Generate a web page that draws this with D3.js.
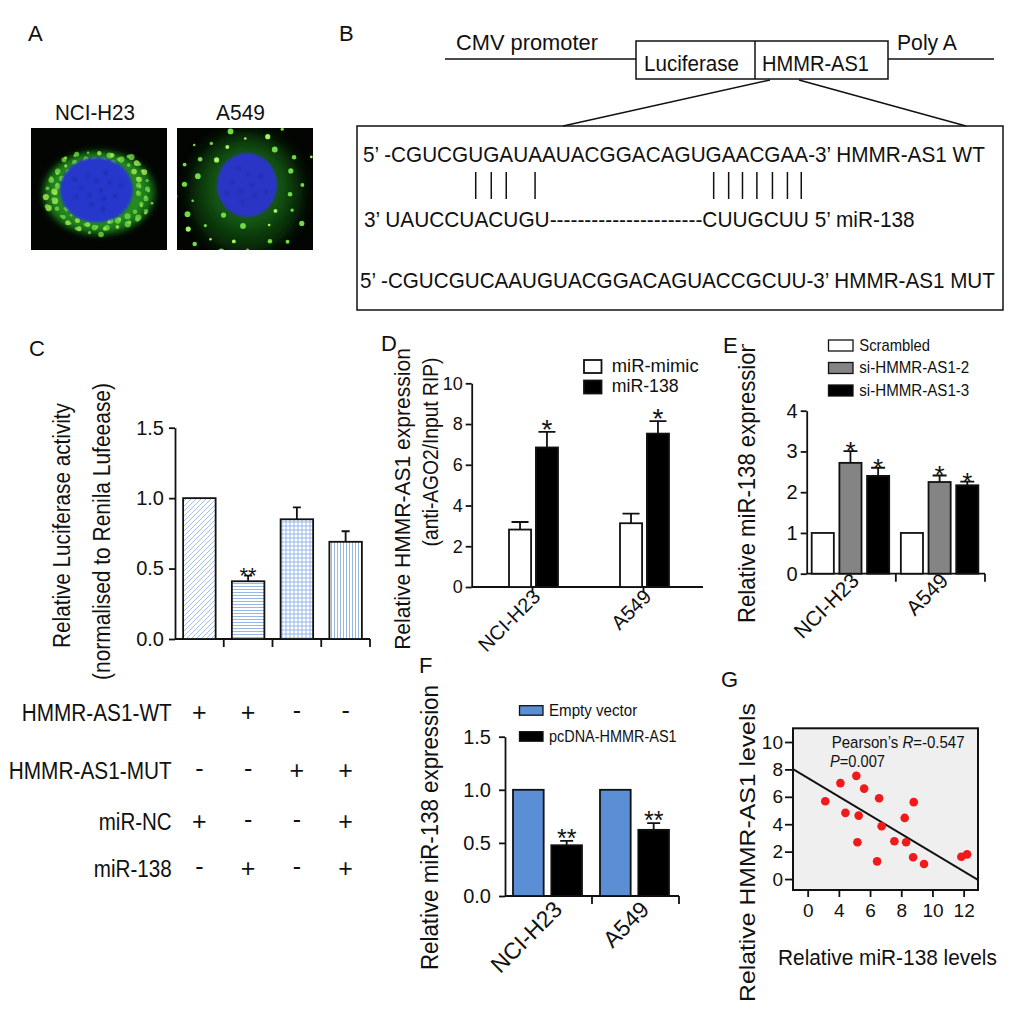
<!DOCTYPE html>
<html>
<head>
<meta charset="utf-8">
<title>HMMR-AS1 / miR-138</title>
<script src="https://d3js.org/d3.v7.min.js"></script>
<style>
  body { margin: 0; background: #fff; }
  svg text { font-family: "Liberation Sans", Arial, Helvetica, sans-serif; fill: #111; }
</style>
</head>
<body>
<svg id="fig" width="1020" height="1020"></svg>
<script>
// ---------- data ----------
var cellLines = ['NCI-H23', 'A549']

// B: sequences
var seqWT  = '5\u2019 -CGUCGUGAUAAUACGGACAGUGAACGAA-3\u2019 HMMR-AS1 WT'
var seqMiR = '3\u2019 UAUCCUACUGU----------------------CUUGCUU 5\u2019 miR-138'
var seqMUT = '5\u2019 -CGUCGUCAAUGUACGGACAGUACCGCUU-3\u2019 HMMR-AS1 MUT'
var pairIndex = [9, 10, 11, 13, 25, 26, 27, 28, 29, 30, 31]

// C: luciferase
var cBars = ['WT+NC', 'WT+138', 'MUT', 'MUT+NC+138']
var cValues = [1.0, 0.41, 0.85, 0.69]
var cErrors = [0, 0.04, 0.085, 0.075]
var cStars = ['', '**', '', '']
var cTicks = [0, 0.5, 1.0, 1.5]
var cRowLabels = ['HMMR-AS1-WT', 'HMMR-AS1-MUT', 'miR-NC', 'miR-138']
var cSigns = [['+', '+', '-', '-'], ['-', '-', '+', '+'], ['+', '-', '-', '+'], ['-', '+', '-', '+']]

// D: RIP
var dSeries = ['miR-mimic', 'miR-138']
var dMimic = [2.82, 3.13]
var dMimicErr = [0.37, 0.47]
var d138 = [6.85, 7.53]
var d138Err = [0.77, 0.61]
var dTicks = [0, 2, 4, 6, 8, 10]

// E: knockdown
var eSeries = ['Scrambled', 'si-HMMR-AS1-2', 'si-HMMR-AS1-3']
var eScr = [1, 1]
var eSi2 = [2.72, 2.25]
var eSi2Err = [0.29, 0.16]
var eSi3 = [2.40, 2.17]
var eSi3Err = [0.20, 0.09]
var eTicks = [0, 1, 2, 3, 4]

// F: overexpression
var fSeries = ['Empty vector', 'pcDNA-HMMR-AS1']
var fEmpty = [1, 1]
var fPc = [0.478, 0.623]
var fPcErr = [0.041, 0.063]
var fTicks = [0, 0.5, 1.0, 1.5]

// G: correlation
var gX = [3.13, 4.10, 4.42, 5.12, 5.27, 5.19, 5.62, 6.58, 6.45, 6.74, 7.56, 8.22, 8.31, 8.80, 8.76, 9.46, 11.85, 12.22]
var gY = [5.68, 7.0, 4.83, 7.53, 4.63, 2.68, 6.6, 5.9, 1.29, 3.85, 2.76, 4.46, 2.68, 5.61, 1.59, 1.1, 1.63, 1.8]
var gLineX = [1.06, 12.92]
var gLineY = [8.02, -0.07]
var gTickPos = [2, 4, 6, 8, 10, 12]
var gTickLabels = ['0', '4', '6', '8', '10', '12']
var gYTicks = [0, 2, 4, 6, 8, 10]

// ---------- helpers ----------
var svg = d3.select('#fig')
var defs = svg.append('defs')

function txt(g, str, x, y, o) {
  o = o || {}
  var t = g.append('text')
    .attr('font-size', o.size || 18)
    .attr('text-anchor', o.anchor || 'start')
  if (Array.isArray(str)) {
    str.forEach(function(p) {
      var ts = t.append('tspan').text(p.s)
      if (p.italic) ts.attr('font-style', 'italic')
    })
  } else {
    t.text(str)
  }
  var sx = 1
  if (o.width) sx = o.width / t.node().getComputedTextLength()
  t.attr('transform', 'translate(' + x + ',' + y + ')' +
    (o.rotate ? ' rotate(' + o.rotate + ')' : '') + ' scale(' + sx + ',1)')
  t.property('sx', sx)
  return t
}

function blur(id, s) {
  defs.append('filter').attr('id', id)
    .attr('x', '-50%').attr('y', '-50%').attr('width', '200%').attr('height', '200%')
    .append('feGaussianBlur').attr('stdDeviation', s)
}
blur('b06', 0.6)
blur('b1', 1.2)
blur('b3', 3)
blur('b7', 7)

function yAxis(g, x0, y, ticks, fmt, size, pad) {
  var ax = g.append('g').attr('transform', 'translate(' + x0 + ',0)')
    .call(d3.axisLeft(y).tickValues(ticks).tickFormat(fmt).tickSize(6).tickSizeOuter(0).tickPadding(pad || 3))
  ax.attr('font-size', size)
  ax.select('.domain').attr('stroke-width', 1.8).attr('stroke', '#111')
  ax.selectAll('.tick line').attr('stroke-width', 1.8).attr('stroke', '#111')
  return ax
}

function baseLine(g, x1, x2, y0, ticks, len) {
  var p = 'M' + x1 + ',' + y0 + 'H' + x2
  ticks.forEach(function(t) { p += 'M' + t + ',' + y0 + 'v' + len })
  g.append('path').attr('d', p).attr('stroke', '#111').attr('stroke-width', 1.8).attr('fill', 'none')
}

function bars(g, rows, y, capW, starSize, starOff) {
  g.selectAll(null).data(rows).enter().append('rect')
    .attr('x', function(d) { return d.x }).attr('width', function(d) { return d.w })
    .attr('y', function(d) { return y(d.v) })
    .attr('height', function(d) { return y(0) - y(d.v) })
    .attr('fill', function(d) { return d.fill })
    .attr('stroke', '#111').attr('stroke-width', 1.8)
  g.selectAll(null).data(rows.filter(function(d) { return d.e > 0 })).enter().append('path')
    .attr('d', function(d) {
      var cx = d.x + d.w / 2, t = y(d.v + d.e)
      return 'M' + cx + ',' + y(d.v) + 'V' + t + 'M' + (cx - capW / 2) + ',' + t + 'H' + (cx + capW / 2)
    })
    .attr('stroke', '#111').attr('stroke-width', 1.8).attr('fill', 'none')
  rows.filter(function(d) { return d.star }).forEach(function(d) {
    txt(g, d.star, d.x + d.w / 2, y(d.v + d.e) + starOff, {size: starSize, anchor: 'middle'})
  })
}

// panel letters
var letters = svg.append('g')
txt(letters, 'A', 28, 41, {size: 22})
txt(letters, 'B', 339, 41, {size: 22})
txt(letters, 'C', 29, 356, {size: 22})
txt(letters, 'D', 381, 351, {size: 22})
txt(letters, 'E', 723, 353, {size: 22})
txt(letters, 'F', 419, 673, {size: 22})
txt(letters, 'G', 721, 687, {size: 22})

// ---------- A: fluorescence images ----------
var gA = svg.append('g')
txt(gA, 'NCI-H23', 95, 120, {size: 22, anchor: 'middle', width: 80})
txt(gA, 'A549', 240.5, 120, {size: 22, anchor: 'middle', width: 49})

function cellBox(id, x0, y0, w, h) {
  defs.append('clipPath').attr('id', id).append('rect')
    .attr('x', x0).attr('y', y0).attr('width', w).attr('height', h)
  var g = gA.append('g').attr('clip-path', 'url(#' + id + ')')
  g.append('rect').attr('x', x0).attr('y', y0).attr('width', w).attr('height', h).attr('fill', '#030503')
  return g
}

// NCI-H23 cell
var a1 = cellBox('clipA1', 31, 128, 136, 122)
a1.append('ellipse').attr('cx', 99).attr('cy', 193).attr('rx', 56).attr('ry', 42)
  .attr('fill', '#176a17').attr('filter', 'url(#b3)')
a1.append('ellipse').attr('cx', 98).attr('cy', 192).attr('rx', 48).attr('ry', 37)
  .attr('fill', '#2f9a25').attr('opacity', 0.65).attr('filter', 'url(#b3)')
d3.range(90).forEach(function(i) {
  var a = i * 2.39996, f = 0.68 + 0.3 * ((i * 53) % 97) / 97
  a1.append('circle')
    .attr('cx', 99 + 57 * f * Math.cos(a)).attr('cy', 192 + 44 * f * Math.sin(a))
    .attr('r', 1.3 + ((i * 31) % 7) * 0.3)
    .attr('fill', i % 3 ? '#72d845' : '#a8ee55').attr('opacity', 0.8).attr('filter', 'url(#b06)')
})
a1.append('ellipse').attr('cx', 96.5).attr('cy', 190).attr('rx', 36.5).attr('ry', 32.5)
  .attr('fill', '#2638cc').attr('filter', 'url(#b1)')
d3.range(14).forEach(function(i) {
  var a = i * 2.39996, f = Math.sqrt((i + 0.5) / 14)
  a1.append('circle').attr('cx', 96 + 26 * f * Math.cos(a)).attr('cy', 190 + 22 * f * Math.sin(a))
    .attr('r', 2.2).attr('fill', '#18249a').attr('opacity', 0.5).attr('filter', 'url(#b1)')
})

// A549 cell
var a2 = cellBox('clipA2', 177, 128, 136, 122)
a2.append('ellipse').attr('cx', 246).attr('cy', 192).attr('rx', 56).attr('ry', 60)
  .attr('fill', '#0e460e').attr('opacity', 0.75).attr('filter', 'url(#b7)')
a2.append('ellipse').attr('cx', 247).attr('cy', 188).attr('rx', 40).attr('ry', 42)
  .attr('fill', '#1a701a').attr('opacity', 0.6).attr('filter', 'url(#b7)')
d3.range(70).forEach(function(i) {
  var a = i * 2.39996, f = Math.sqrt((i + 0.5) / 70)
  var px = 245 + 82 * f * Math.cos(a), py = 189 + 70 * f * Math.sin(a)
  if (Math.pow((px - 247) / 33, 2) + Math.pow((py - 185) / 35, 2) < 1.1) return
  if (i % 5 === 2) return
  a2.append('circle').attr('cx', px).attr('cy', py)
    .attr('r', 1.3 + ((i * 29) % 6) * 0.32)
    .attr('fill', i % 4 ? '#6fdc45' : '#a8f25c').attr('filter', 'url(#b06)')
})
a2.append('ellipse').attr('cx', 247).attr('cy', 185).attr('rx', 30).attr('ry', 32)
  .attr('fill', '#2a36c6').attr('filter', 'url(#b1)')
d3.range(10).forEach(function(i) {
  var a = i * 2.39996, f = Math.sqrt((i + 0.5) / 10)
  a2.append('circle').attr('cx', 247 + 22 * f * Math.cos(a)).attr('cy', 185 + 22 * f * Math.sin(a))
    .attr('r', 2).attr('fill', '#1a2598').attr('opacity', 0.5).attr('filter', 'url(#b1)')
})

// ---------- B: construct + sequences ----------
var gB = svg.append('g')
var lineAttr = function(s) { return s.attr('stroke', '#111').attr('stroke-width', 1.5).attr('fill', 'none') }
lineAttr(gB.append('path').attr('d', 'M445,59H636M888,59H994'))
lineAttr(gB.append('rect').attr('x', 636).attr('y', 41).attr('width', 252).attr('height', 38))
lineAttr(gB.append('path').attr('d', 'M755,41V79'))
lineAttr(gB.append('path').attr('d', 'M770,80L563,126M799,80L966,126'))
lineAttr(gB.append('rect').attr('x', 357).attr('y', 126).attr('width', 646).attr('height', 184))
txt(gB, 'CMV  promoter', 456, 50, {size: 22, width: 142})
txt(gB, 'Poly A', 897, 50, {size: 22, width: 60})
txt(gB, 'Luciferase', 644, 71, {size: 22, width: 95})
txt(gB, 'HMMR-AS1', 762, 71, {size: 22, width: 107})
var wt = txt(gB, seqWT, 363, 162, {size: 22, width: 622})
txt(gB, seqMiR, 364, 227, {size: 22, width: 551})
txt(gB, seqMUT, 360, 288, {size: 22, width: 635})
var wtSx = wt.property('sx')
pairIndex.forEach(function(ci) {
  var n = wt.node()
  var cx = 363 + wtSx * (n.getStartPositionOfChar(ci).x + n.getEndPositionOfChar(ci).x) / 2
  lineAttr(gB.append('path').attr('d', 'M' + cx + ',172V199'))
})

// ---------- C: luciferase bars ----------
var gC = svg.append('g')
var xC = d3.scaleBand().domain(d3.range(cBars.length)).range([175, 370]).paddingInner(0.333).paddingOuter(0.1665)
var yC = d3.scaleLinear().domain([0, 1.5]).range([639, 427.7])

function pat(id, d, size, w) {
  var p = defs.append('pattern').attr('id', id).attr('patternUnits', 'userSpaceOnUse')
    .attr('width', size).attr('height', size)
  p.append('rect').attr('width', size).attr('height', size).attr('fill', '#fff')
  p.append('path').attr('d', d).attr('stroke', '#8bb0e4').attr('stroke-width', w).attr('fill', 'none')
}
pat('pDiag', 'M0,5L5,0M-1,1L1,-1M4,6L6,4', 5, 0.8)
pat('pH', 'M0,1.5H3', 3, 0.9)
pat('pGrid', 'M0,2H4M2,0V4', 4, 0.9)
pat('pV', 'M1.5,0V3', 3, 0.9)
var cFills = ['url(#pDiag)', 'url(#pH)', 'url(#pGrid)', 'url(#pV)']

yAxis(gC, 175, yC, cTicks, d3.format('.1f'), 20, 5)
var cBounds = xC.domain().map(function(i) { return xC(i) + (xC.step() + xC.bandwidth()) / 2 })
baseLine(gC, 175, 370, 639, cBounds, 8)
bars(gC, cValues.map(function(v, i) {
  return {x: xC(i), w: xC.bandwidth(), v: v, e: cErrors[i], fill: cFills[i], star: cStars[i]}
}), yC, 8, 22, 7)

txt(gC, 'Relative Luciferase activity', 70, 525.5, {size: 23, anchor: 'middle', rotate: -90, width: 245})
txt(gC, '(normalised to Renila Lufeease)', 110, 531.5, {size: 23, anchor: 'middle', rotate: -90, width: 297})

var rowBase = [721, 779, 830, 877]
var rowWidth = [150, 163, 73, 78]
cRowLabels.forEach(function(lab, r) {
  txt(gC, lab, 171.7, rowBase[r], {size: 24, anchor: 'end', width: rowWidth[r]})
  cSigns[r].forEach(function(s, i) {
    txt(gC, s, xC(i) + xC.bandwidth() / 2, rowBase[r] - (s === '+' ? 0 : 2), {size: 25, anchor: 'middle'})
  })
})

// ---------- D: RIP ----------
var gD = svg.append('g')
var xD = d3.scaleBand().domain(cellLines).range([477, 699])
var xDi = d3.scaleBand().domain(dSeries).range([32, 81]).paddingInner(0.18)
var yD = d3.scaleLinear().domain([0, 10]).range([587, 383.3])
yAxis(gD, 471.7, yD, dTicks, d3.format('d'), 18, 3)
baseLine(gD, 471.7, 703, 587, cellLines.map(function(c) { return xD(c) + xD.bandwidth() / 2 }), 6)
var dRows = []
cellLines.forEach(function(c, i) {
  dRows.push({x: xD(c) + xDi('miR-mimic'), w: xDi.bandwidth(), v: dMimic[i], e: dMimicErr[i], fill: '#fff'})
  dRows.push({x: xD(c) + xDi('miR-138'), w: xDi.bandwidth(), v: d138[i], e: d138Err[i], fill: '#000', star: '*'})
})
bars(gD, dRows, yD, 17, 28, 7)
var dFills = ['#fff', '#000']
dSeries.forEach(function(s, i) {
  gD.append('rect').attr('x', 584).attr('y', 360 + i * 20.5).attr('width', 17.5).attr('height', 13)
    .attr('fill', dFills[i]).attr('stroke', '#111').attr('stroke-width', 1.8)
  txt(gD, s, 611.7, 371.5 + i * 20.5, {size: 19, width: [87, 67][i]})
})
txt(gD, 'Relative HMMR-AS1 expression', 410, 499, {size: 22, anchor: 'middle', rotate: -90, width: 302})
txt(gD, '(anti-AGO2/Input RIP)', 438, 452, {size: 22, anchor: 'middle', rotate: -90, width: 189})
cellLines.forEach(function(c) {
  txt(gD, c, xD(c) + xD.bandwidth() / 2 + 9, 598, {size: 20, anchor: 'end', rotate: -45})
})

// ---------- E: knockdown ----------
var gE = svg.append('g')
var xE = d3.scaleBand().domain(cellLines).range([806.7, 985])
var xEi = d3.scaleBand().domain(eSeries).range([5, 82.5]).paddingInner(0.2)
var yE = d3.scaleLinear().domain([0, 4]).range([573.7, 410.7])
yAxis(gE, 806.7, yE, eTicks, d3.format('d'), 20, 3)
baseLine(gE, 806.7, 985, 573.7, cellLines.map(function(c) { return xE(c) + xE.bandwidth() }), 8)
var eFills = ['#fff', '#848484', '#000']
var eRows = []
cellLines.forEach(function(c, i) {
  eRows.push({x: xE(c) + xEi(eSeries[0]), w: xEi.bandwidth(), v: eScr[i], e: 0, fill: eFills[0]})
  eRows.push({x: xE(c) + xEi(eSeries[1]), w: xEi.bandwidth(), v: eSi2[i], e: eSi2Err[i], fill: eFills[1], star: '*'})
  eRows.push({x: xE(c) + xEi(eSeries[2]), w: xEi.bandwidth(), v: eSi3[i], e: eSi3Err[i], fill: eFills[2], star: '*'})
})
bars(gE, eRows, yE, 14, 26, 9)
eSeries.forEach(function(s, i) {
  gE.append('rect').attr('x', 828.5).attr('y', 340 + i * 22.5).attr('width', 24.5).attr('height', 11)
    .attr('fill', eFills[i]).attr('stroke', '#111').attr('stroke-width', 1.3)
  txt(gE, s, 859.3, 350.5 + i * 22.8, {size: 17, width: [70.7, 110, 110][i]})
})
defs.append('clipPath').attr('id', 'clipE').append('rect').attr('x', 700).attr('y', 344).attr('width', 100).attr('height', 300)
var eLab = gE.append('g').attr('clip-path', 'url(#clipE)')
txt(eLab, 'Relative  miR-138 expression', 755, 623, {size: 23, rotate: -90, width: 283})
cellLines.forEach(function(c) {
  txt(gE, c, xE(c) + xE.bandwidth() / 2 + 9, 582, {size: 21, anchor: 'end', rotate: -45})
})

// ---------- F: overexpression ----------
var gF = svg.append('g')
var xF = d3.scaleBand().domain(cellLines).range([505, 679])
var xFi = d3.scaleBand().domain(fSeries).range([8, 77]).paddingInner(0.2)
var yF = d3.scaleLinear().domain([0, 1.5]).range([896, 736.7])
yAxis(gF, 505, yF, fTicks, d3.format('.1f'), 20, 8)
baseLine(gF, 505, 679, 896, cellLines.map(function(c) { return xF(c) + xF.bandwidth() }), 8)
var fFills = ['#5a8fd6', '#000']
var fRows = []
cellLines.forEach(function(c, i) {
  fRows.push({x: xF(c) + xFi(fSeries[0]), w: xFi.bandwidth(), v: fEmpty[i], e: 0, fill: fFills[0]})
  fRows.push({x: xF(c) + xFi(fSeries[1]), w: xFi.bandwidth(), v: fPc[i], e: fPcErr[i], fill: fFills[1], star: '**'})
})
bars(gF, fRows, yF, 13, 25, 6)
fSeries.forEach(function(s, i) {
  gF.append('rect').attr('x', 519.5).attr('y', 705.7 + i * 26).attr('width', 23.5).attr('height', 9.5)
    .attr('fill', fFills[i]).attr('stroke', '#111').attr('stroke-width', 1.3)
  txt(gF, s, 549, 715.5 + i * 26.2, {size: 17, width: [88.3, 127.7][i]})
})
txt(gF, 'Relative  miR-138 expression', 438, 970, {size: 23, rotate: -90, width: 285})
cellLines.forEach(function(c) {
  txt(gF, c, xF(c) + xF.bandwidth() / 2 + 15, 911, {size: 23, anchor: 'end', rotate: -45})
})

// ---------- G: scatter ----------
var gG = svg.append('g')
var gx = d3.scaleLinear().domain([1.06, 12.92]).range([793, 978])
var gy = d3.scaleLinear().domain([-0.8, 11.0]).range([890, 728.3])
gG.append('rect').attr('x', 793).attr('y', 728.3).attr('width', 185).attr('height', 161.7)
  .attr('fill', '#efefef')
var gyAx = gG.append('g').attr('transform', 'translate(793,0)')
  .call(d3.axisLeft(gy).tickValues(gYTicks).tickSize(8).tickPadding(2))
var gxAx = gG.append('g').attr('transform', 'translate(0,890)')
  .call(d3.axisBottom(gx).tickValues(gTickPos).tickFormat(function(d, i) { return gTickLabels[i] }).tickSize(7).tickPadding(7))
;[gyAx, gxAx].forEach(function(ax) {
  ax.attr('font-size', 19)
  ax.select('.domain').remove()
  ax.selectAll('.tick line').attr('stroke', '#111').attr('stroke-width', 1.8)
})
defs.append('clipPath').attr('id', 'clipG').append('rect').attr('x', 793).attr('y', 728.3).attr('width', 185).attr('height', 161.7)
gG.append('path').attr('clip-path', 'url(#clipG)')
  .attr('d', d3.line().x(function(d, i) { return gx(gLineX[i]) }).y(function(d) { return gy(d) })(gLineY))
  .attr('stroke', '#111').attr('stroke-width', 2).attr('fill', 'none')
gG.selectAll(null).data(gX).enter().append('circle')
  .attr('cx', function(d) { return gx(d) })
  .attr('cy', function(d, i) { return gy(gY[i]) })
  .attr('r', 4.3).attr('fill', '#f01a1a')
gG.append('rect').attr('x', 793).attr('y', 728.3).attr('width', 185).attr('height', 161.7)
  .attr('fill', 'none').attr('stroke', '#111').attr('stroke-width', 2)
txt(gG, [{s: 'Pearson\u2019s '}, {s: 'R', italic: true}, {s: '=-0.547'}], 831.7, 748.3, {size: 17, width: 133})
txt(gG, [{s: 'P', italic: true}, {s: '=0.007'}], 830, 766.7, {size: 17, width: 55})
txt(gG, 'Relative  HMMR-AS1 levels', 755, 1002, {size: 22, rotate: -90, width: 299})
txt(gG, 'Relative miR-138 levels', 778, 965, {size: 22, width: 219})
</script>
</body>
</html>
